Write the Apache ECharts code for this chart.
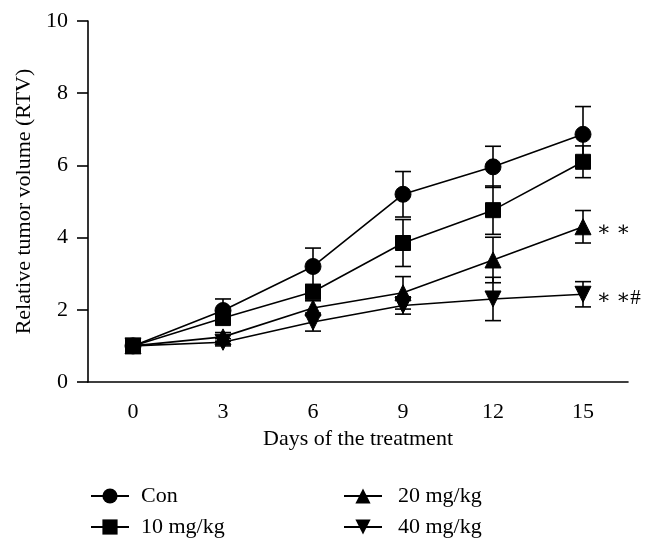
<!DOCTYPE html>
<html>
<head>
<meta charset="utf-8">
<script src="https://cdn.jsdelivr.net/npm/echarts@6/dist/echarts.min.js"></script>
<style>html,body{margin:0;padding:0;background:#fff;}#c{width:648px;height:551px;}</style>
</head>
<body>
<div id="c"></div>
<script>
const days = ['0', '3', '6', '9', '12', '15'];
const yTicks = [0, 2, 4, 6, 8, 10];
const seriesNames = ['Con', '10 mg/kg', '20 mg/kg', '40 mg/kg'];
const con = [1.0, 1.98, 3.2, 5.2, 5.96, 6.86];
const conErr = [0, 0.32, 0.51, 0.63, 0.57, 0.77];
const mg10 = [1.0, 1.77, 2.5, 3.85, 4.76, 6.1];
const mg10Err = [0, 0.15, 0.2, 0.65, 0.67, 0.44];
const mg20 = [1.0, 1.25, 2.05, 2.47, 3.38, 4.3];
const mg20Err = [0, 0.12, 0.2, 0.45, 0.63, 0.45];
const mg40 = [1.0, 1.1, 1.66, 2.12, 2.3, 2.43];
const mg40Err = [0, 0.1, 0.25, 0.24, 0.6, 0.35];
const annotations = ['', '', '∗ ∗', '∗ ∗#'];

const FONT = '"Liberation Serif", "DejaVu Serif", serif';
const FS = 22;
const chart = echarts.init(document.getElementById('c'));

const groups = [
  {name: seriesNames[0], vals: con, err: conErr, symbol: 'circle', size: 16, rot: 0, z: 3},
  {name: seriesNames[1], vals: mg10, err: mg10Err, symbol: 'rect', size: 15, rot: 0, z: 6},
  {name: seriesNames[2], vals: mg20, err: mg20Err, symbol: 'triangle', size: 16, rot: 0, z: 4},
  {name: seriesNames[3], vals: mg40, err: mg40Err, symbol: 'triangle', size: 16, rot: 180, z: 5}
];

const series = [];
groups.forEach((g, gi) => {
  series.push({
    type: 'custom',
    name: g.name + ' err',
    z: 2,
    silent: true,
    renderItem: function (params, api) {
      const x = api.value(0);
      const lo = api.coord([x, api.value(1)]);
      const hi = api.coord([x, api.value(2)]);
      const hw = 8;
      const st = {stroke: '#000', lineWidth: 1.6};
      return {
        type: 'group',
        children: [
          {type: 'line', shape: {x1: lo[0], y1: lo[1], x2: hi[0], y2: hi[1]}, style: st},
          {type: 'line', shape: {x1: lo[0] - hw, y1: lo[1], x2: lo[0] + hw, y2: lo[1]}, style: st},
          {type: 'line', shape: {x1: hi[0] - hw, y1: hi[1], x2: hi[0] + hw, y2: hi[1]}, style: st}
        ]
      };
    },
    data: g.vals.map((v, i) => [i, v - g.err[i], v + g.err[i]]).filter((d, i) => g.err[i] > 0)
  });
  series.push({
    type: 'line',
    name: g.name,
    z: g.z,
    symbol: g.symbol,
    symbolSize: g.size,
    symbolRotate: g.rot,
    showAllSymbol: true,
    lineStyle: {color: '#000', width: 1.6},
    itemStyle: {color: '#000', borderColor: '#000'},
    emphasis: {disabled: true},
    data: g.vals.map((v, i) => {
      if (i === g.vals.length - 1 && annotations[gi]) {
        return {
          value: v,
          label: {
            show: true, position: 'right', distance: 5,
            formatter: annotations[gi],
            fontFamily: FONT, fontSize: 21, color: '#000', offset: [0, 4]
          }
        };
      }
      return v;
    })
  });
});

function legendCfg(left, names, pad) {
  return {
    left: left,
    top: 480,
    orient: 'vertical',
    itemWidth: 38,
    itemHeight: 19,
    itemGap: 9,
    data: names,
    textStyle: {fontFamily: FONT, fontSize: FS, color: '#000', padding: [0, 0, 0, pad]},
    inactiveColor: '#000',
    selectedMode: false
  };
}

chart.setOption({
  animation: false,
  backgroundColor: '#fff',
  grid: {left: 88, right: 20, top: 21, bottom: 169, containLabel: false},
  legend: [
    legendCfg(85, [seriesNames[0], seriesNames[1]], 7),
    legendCfg(338, [seriesNames[2], seriesNames[3]], 11)
  ],
  xAxis: {
    type: 'category',
    data: days,
    boundaryGap: true,
    name: 'Days of the treatment',
    nameLocation: 'middle',
    nameGap: 43,
    nameTextStyle: {fontFamily: FONT, fontSize: FS, color: '#000'},
    axisLine: {lineStyle: {color: '#000', width: 1.6}},
    axisTick: {alignWithLabel: true, length: 10, lineStyle: {color: '#000', width: 1.6}},
    axisLabel: {fontFamily: FONT, fontSize: FS, color: '#000', margin: 19},
    splitLine: {show: false}
  },
  yAxis: {
    type: 'value',
    min: yTicks[0],
    max: yTicks[yTicks.length - 1],
    interval: 2,
    name: 'Relative tumor volume (RTV)',
    nameLocation: 'middle',
    nameGap: 53,
    nameTextStyle: {fontFamily: FONT, fontSize: FS, color: '#000'},
    axisLine: {show: true, lineStyle: {color: '#000', width: 1.6}},
    axisTick: {show: true, length: 11, lineStyle: {color: '#000', width: 1.6}},
    axisLabel: {fontFamily: FONT, fontSize: FS, color: '#000', margin: 20},
    splitLine: {show: false}
  },
  series: series
});
</script>
</body>
</html>
